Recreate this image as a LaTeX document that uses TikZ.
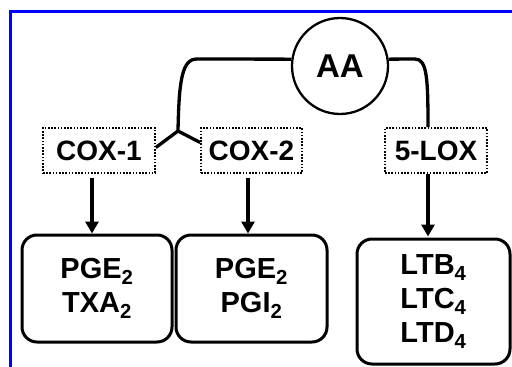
\documentclass[tikz,border=0pt]{standalone}
\usepackage{fontspec}
\setmainfont{Liberation Sans}
\usetikzlibrary{arrows.meta}
\begin{document}
\begin{tikzpicture}[x=1pt,y=-1pt,
  conn/.style={line width=3.3pt},
  arr/.style={line width=3.3pt,-{Triangle[width=13pt,length=12pt]}},
  enzyme/.style={draw,line width=1.6pt,dash pattern=on 1.6pt off 1.6pt,minimum height=45pt,inner sep=0pt,font=\fontsize{28}{32}\selectfont\bfseries},
  product/.style={draw,line width=3pt,rounded corners=15pt,inner sep=0pt,align=center,font=\fontsize{29}{34}\selectfont\bfseries}]
\useasboundingbox (0,0) rectangle (512,367);
\draw[color={rgb,255:red,0;green,0;blue,255},line width=3pt] (10,367) -- (10,11.5) -- (512,11.5);
\node[draw,circle,line width=2.3pt,minimum size=96pt,inner sep=0pt,font=\fontsize{33}{38}\selectfont\bfseries] (AA) at (340,66) {AA};
\node[enzyme,minimum width=112pt] (cox1) at (99,150.5) {COX-1};
\node[enzyme,minimum width=101pt] (cox2) at (251.5,150.5) {COX-2};
\node[enzyme,minimum width=102pt] (lox) at (436,150.5) {5-LOX};
\node[product,minimum width=150pt,minimum height=107pt] (p1) at (97,288.5) {PGE\textsubscript{2}\\TXA\textsubscript{2}};
\node[product,minimum width=151pt,minimum height=107pt] (p2) at (251.5,288.5) {PGE\textsubscript{2}\\PGI\textsubscript{2}};
\node[product,minimum width=153pt,minimum height=125pt] (p3) at (433.5,301.5) {LTB\textsubscript{4}\\LTC\textsubscript{4}\\LTD\textsubscript{4}};
\coordinate (split) at (178,131);
\draw[conn] (AA.172) -- (197,59) .. controls (182,59) and (179,80) .. (split);
\draw[conn] (split) -- ([yshift=3pt]cox1.east);
\draw[conn] (split) -- ([yshift=8pt]cox2.west);
\draw[conn] (AA.8) -- (415,59) .. controls (427,59) and (428,78) .. ([xshift=-8pt]lox.north);
\draw[arr] ([xshift=-7pt,yshift=-4pt]cox1.south) -- ([xshift=-5pt]p1.north);
\draw[arr] ([xshift=-3.5pt,yshift=-4pt]cox2.south) -- ([xshift=-3.5pt]p2.north);
\draw[arr] ([xshift=-8pt]lox.south) -- ([xshift=-5.5pt,yshift=1pt]p3.north);
\end{tikzpicture}
\end{document}
